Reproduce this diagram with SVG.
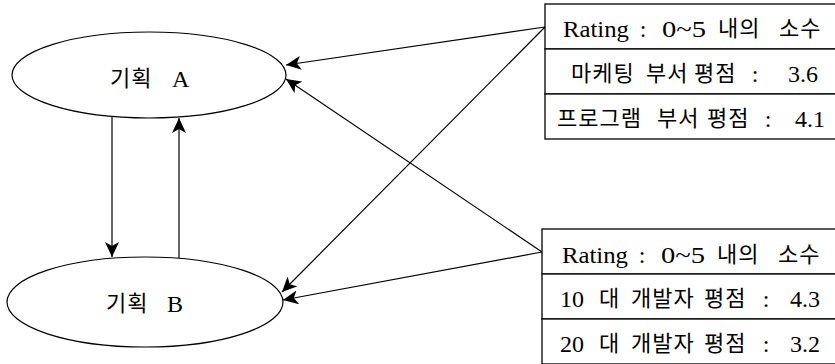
<svg xmlns="http://www.w3.org/2000/svg" width="835" height="364" viewBox="0 0 835 364">
<defs>
<style>
.node{fill:#fff;stroke:#000;stroke-width:1.2}
.cell{fill:#fff;stroke:#000;stroke-width:1.3}
.ko{font-family:"Noto Sans CJK KR","Liberation Serif",sans-serif;font-size:22px;letter-spacing:1px;fill:#000}
.la{font-family:"Liberation Serif","Noto Sans CJK KR",serif;font-size:24px;fill:#000}
.conn{stroke:#000;stroke-width:1.2;fill:none;marker-end:url(#ah)}
</style>
<marker id="ah" markerUnits="userSpaceOnUse" markerWidth="16" markerHeight="14" viewBox="0 0 16 14" refX="15" refY="7" orient="auto">
<path d="M0,0 L15,7 L0,14 L4,7 Z" fill="#000"/>
</marker>
</defs>
<rect width="835" height="364" fill="#fff"/>
<g id="planA">
<ellipse class="node" cx="149" cy="75" rx="137" ry="43"/>
<text class="ko" x="110" y="86" letter-spacing="2">기획</text>
<text class="la" x="172" y="87">A</text>
</g>
<g id="planB">
<ellipse class="node" cx="145" cy="302" rx="138" ry="45"/>
<text class="ko" x="106" y="311" letter-spacing="2">기획</text>
<text class="la" x="167" y="312">B</text>
</g>
<g id="ratingsA">
<rect class="cell" x="545" y="4" width="310" height="45"/>
<rect class="cell" x="545" y="49" width="310" height="45"/>
<rect class="cell" x="545" y="94" width="310" height="45"/>
<text class="la" x="563" y="37" textLength="66" lengthAdjust="spacingAndGlyphs">Rating</text>
<text class="la" x="643" y="37" text-anchor="middle">:</text>
<text class="la" x="662" y="37" textLength="44" lengthAdjust="spacingAndGlyphs">0~5</text>
<text class="ko" x="718" y="36">내의</text>
<text class="ko" x="779" y="36">소수</text>
<text class="ko" x="571" y="81">마케팅</text>
<text class="ko" x="646" y="81">부서</text>
<text class="ko" x="694" y="81">평점</text>
<text class="la" x="755" y="82" text-anchor="middle">:</text>
<text class="la" x="818" y="82" text-anchor="end">3.6</text>
<text class="ko" x="557" y="126">프로그램</text>
<text class="ko" x="657" y="126">부서</text>
<text class="ko" x="707" y="126">평점</text>
<text class="la" x="768" y="127" text-anchor="middle">:</text>
<text class="la" x="825" y="127" text-anchor="end">4.1</text>
</g>
<g id="ratingsB">
<rect class="cell" x="542" y="229" width="310" height="45"/>
<rect class="cell" x="542" y="274" width="310" height="45"/>
<rect class="cell" x="542" y="319" width="310" height="45"/>
<text class="la" x="562" y="263" textLength="66" lengthAdjust="spacingAndGlyphs">Rating</text>
<text class="la" x="642" y="263" text-anchor="middle">:</text>
<text class="la" x="661" y="263" textLength="44" lengthAdjust="spacingAndGlyphs">0~5</text>
<text class="ko" x="717" y="262">내의</text>
<text class="ko" x="778" y="262">소수</text>
<text class="la" x="560" y="307">10</text>
<text class="ko" x="599" y="306">대</text>
<text class="ko" x="631" y="306">개발자</text>
<text class="ko" x="704" y="306">평점</text>
<text class="la" x="766" y="307" text-anchor="middle">:</text>
<text class="la" x="820" y="307" text-anchor="end">4.3</text>
<text class="la" x="560" y="352">20</text>
<text class="ko" x="599" y="351">대</text>
<text class="ko" x="631" y="351">개발자</text>
<text class="ko" x="704" y="351">평점</text>
<text class="la" x="766" y="352" text-anchor="middle">:</text>
<text class="la" x="820" y="352" text-anchor="end">3.2</text>
</g>
<g id="connectors">
<line class="conn" x1="112" y1="117" x2="112" y2="257"/>
<line class="conn" x1="179" y1="258" x2="179" y2="118"/>
<line class="conn" x1="545" y1="27" x2="286" y2="65"/>
<line class="conn" x1="545" y1="27" x2="282" y2="292"/>
<line class="conn" x1="542" y1="252" x2="286" y2="79"/>
<line class="conn" x1="542" y1="252" x2="283" y2="300"/>
</g>
</svg>
